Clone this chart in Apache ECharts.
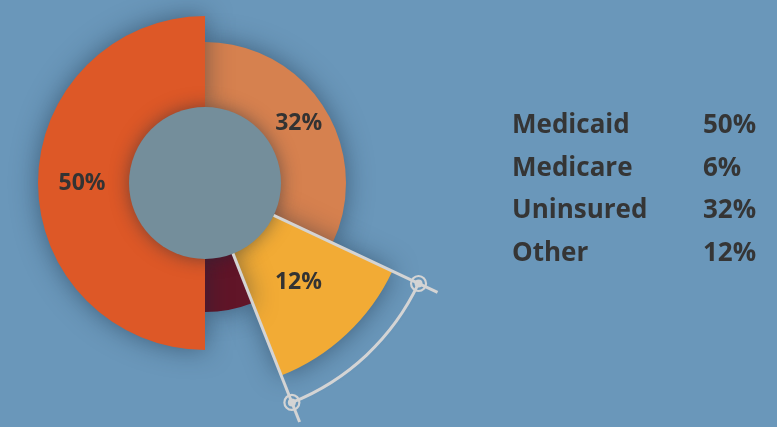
<!DOCTYPE html>
<html>
<head>
<meta charset="utf-8">
<script src="https://cdn.jsdelivr.net/npm/echarts@6/dist/echarts.min.js"></script>
<style>
html, body { margin: 0; padding: 0; background: #6a97ba; }
#main { width: 777px; height: 427px; }
</style>
</head>
<body>
<div id="main"></div>
<script>
// data, in clockwise order from 12 o'clock
var names = ['Uninsured', 'Other', 'Medicare', 'Medicaid'];
var values = [32, 12, 6, 50];
var legendOrder = ['Medicaid', 'Medicare', 'Uninsured', 'Other'];

// look of each slice (radii in px; the hub hides the inner edge)
var sliceLook = {
  Uninsured: { color: '#d6814f', r0: 75, r: 141 },
  Other: { color: '#f2ab35', r0: 60, r: 207 },
  Medicare: { color: '#611528', r0: 70, r: 129 },
  Medicaid: { color: '#dd5827', r0: 73, r: 167 }
};

var cx = 205, cy = 183, hub = 76;
var font = 'Open Sans';

var myChart = echarts.init(document.getElementById('main'));

var series = [];
names.forEach(function (name, i) {
  series.push({
    type: 'pie',
    name: name,
    center: [cx, cy],
    radius: [sliceLook[name].r0, sliceLook[name].r],
    startAngle: 90,
    clockwise: true,
    silent: true,
    avoidLabelOverlap: false,
    z: 2,
    labelLine: { show: false },
    data: names.map(function (n, j) {
      var mine = j === i;
      return {
        name: n,
        value: values[j],
        itemStyle: mine ? {
          color: sliceLook[n].color,
          shadowBlur: 26,
          shadowColor: 'rgba(20,40,60,0.5)'
        } : { color: 'transparent', shadowBlur: 0 },
        label: {
          show: mine && n !== 'Medicare',
          position: 'inside',
          formatter: '{c}%',
          color: '#333',
          fontFamily: font,
          fontWeight: 'bold',
          fontSize: 23
        }
      };
    })
  });
});

// grey hub in the middle
series.push({
  type: 'pie',
  center: [cx, cy],
  radius: [0, hub],
  silent: true,
  z: 5,
  label: { show: false },
  labelLine: { show: false },
  itemStyle: { color: '#748e9b', shadowBlur: 18, shadowColor: 'rgba(20,40,60,0.5)' },
  data: [{ value: 1, name: '' }]
});

// bracket round the "Other" slice, angles taken from the data
var total = values.reduce(function (a, b) { return a + b; }, 0);
var k = names.indexOf('Other');
var before = values.slice(0, k).reduce(function (a, b) { return a + b; }, 0);
var a1 = before / total * Math.PI * 2 - Math.PI / 2;
var a2 = (before + values[k]) / total * Math.PI * 2 - Math.PI / 2;
var grey = '#d4d4d4';
var rArc = 236, rEnd = 257;

function pt(a, r) { return [cx + r * Math.cos(a), cy + r * Math.sin(a)]; }

var graphic = [];
[a1, a2].forEach(function (a) {
  var p0 = pt(a, hub), p1 = pt(a, rEnd), pm = pt(a, rArc);
  graphic.push({
    type: 'line', z: 100, silent: true,
    shape: { x1: p0[0], y1: p0[1], x2: p1[0], y2: p1[1] },
    style: { stroke: grey, lineWidth: 3 }
  });
  graphic.push({
    type: 'circle', z: 101, silent: true,
    shape: { cx: pm[0], cy: pm[1], r: 7.5 },
    style: { fill: 'none', stroke: grey, lineWidth: 2.2 }
  });
  graphic.push({
    type: 'circle', z: 101, silent: true,
    shape: { cx: pm[0], cy: pm[1], r: 4 },
    style: { fill: grey }
  });
});
graphic.push({
  type: 'arc', z: 100, silent: true,
  shape: { cx: cx, cy: cy, r: rArc, startAngle: a1, endAngle: a2, clockwise: true },
  style: { stroke: grey, lineWidth: 3, fill: null }
});

var option = {
  backgroundColor: '#6a97ba',
  animation: false,
  legend: {
    orient: 'vertical',
    left: 477,
    top: 108,
    icon: 'none',
    itemGap: 16.5,
    selectedMode: false,
    data: legendOrder,
    formatter: function (name) {
      return '{n|' + name + '}{v|' + values[names.indexOf(name)] + '%}';
    },
    textStyle: {
      rich: {
        n: { width: 191, fontSize: 26, fontWeight: 'bold', color: '#353535', fontFamily: font, lineHeight: 27 },
        v: { fontSize: 26, fontWeight: 'bold', color: '#353535', fontFamily: font, lineHeight: 27 }
      }
    }
  },
  series: series,
  graphic: graphic
};

myChart.setOption(option);
</script>
</body>
</html>
